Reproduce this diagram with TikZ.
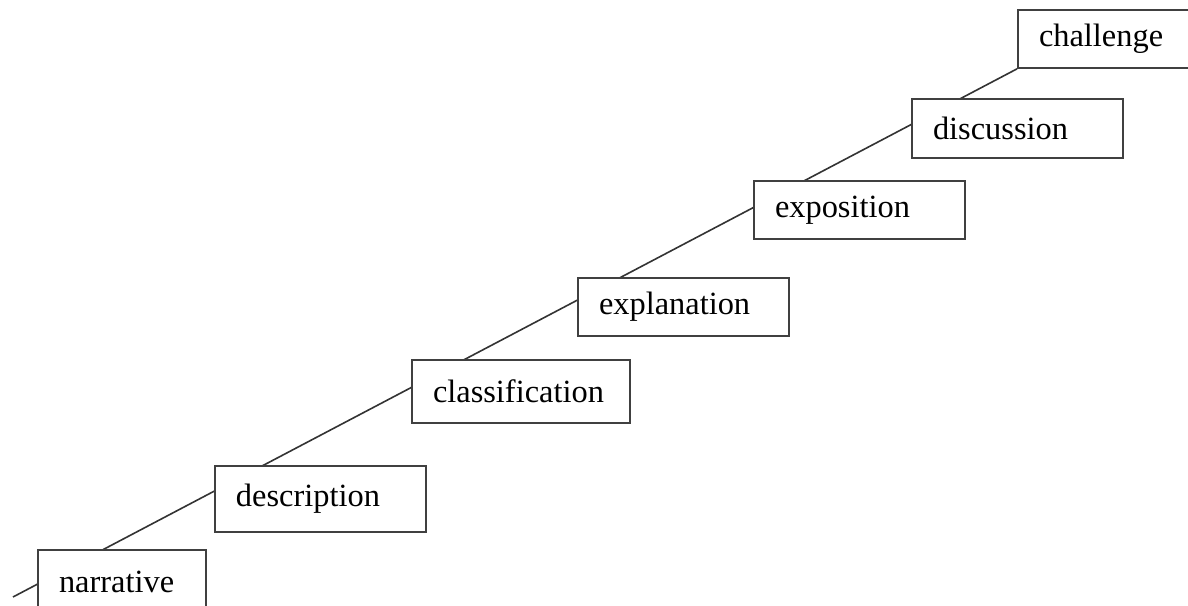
\documentclass[tikz,border=0pt]{standalone}
\usepackage{fontspec}
\setmainfont{Liberation Serif}
\usetikzlibrary{backgrounds}
\begin{document}
\begin{tikzpicture}[x=0.375pt,y=-0.375pt,line join=miter]
	\tikzstyle{stage}=[draw=black!75,fill=white,line width=0.7pt,anchor=north west,rectangle,align=left,inner xsep=7.9pt,inner ysep=0pt,font=\fontsize{12.15}{14}\selectfont,text width=#1];
	\clip (0,0) rectangle (1188,606);
	\path (37,549)   node [stage=47.2pt, minimum height=24pt]   (narr)  {narrative};
	\path (214,465)  node [stage=63.3pt, minimum height=24.75pt] (desc) {description};
	\path (411,359)  node [stage=65.9pt, minimum height=23.6pt]  (clas) {classification};
	\path (577,277)  node [stage=63.3pt, minimum height=21.75pt] (expl) {explanation};
	\path (753,180)  node [stage=63.3pt, minimum height=21.75pt] (expo) {exposition};
	\path (911,98)   node [stage=63.3pt, minimum height=22.1pt]  (disc) {discussion};
	\path (1017,9)   node [stage=63.3pt, minimum height=21.75pt] (chal) {challenge};
	\coordinate (start) at (13,597);
	\begin{pgfonlayer}{background}
		\draw[black!80,line width=0.6pt] (start) -- (chal.south west);
	\end{pgfonlayer}
\end{tikzpicture}
\end{document}
